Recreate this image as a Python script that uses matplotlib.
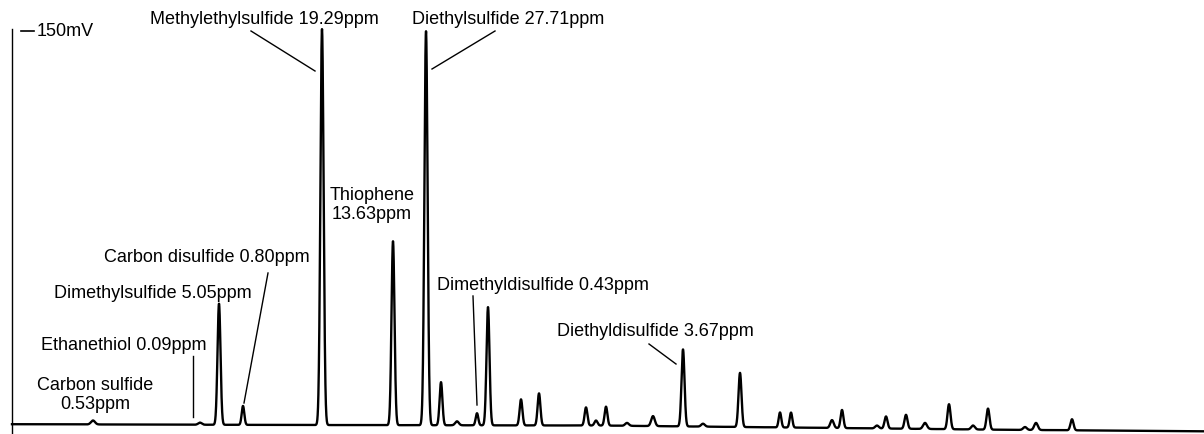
import numpy as np
import matplotlib
matplotlib.use("Agg")
import matplotlib.pyplot as plt

plt.rcParams['font.family'] = ['Liberation Sans', 'DejaVu Sans']

# ---- data: chromatogram peaks (retention position, arbitrary units; height in mV; width sigma) ----
peak_rt = [93, 200, 219, 243, 322, 393, 426, 441, 457, 477, 488, 521, 539, 586, 596, 606,
           627, 653, 683, 703, 740, 780, 791, 832, 842, 877, 886, 906, 925, 949, 973, 988,
           1025, 1036, 1072]
peak_height = [1.5, 0.8, 46.1, 7.2, 150.8, 70.0, 150.0, 16.4, 1.5, 4.6, 45.0, 9.9, 12.2, 6.9, 1.9, 7.2,
               1.1, 3.8, 29.3, 1.1, 20.6, 5.7, 5.7, 3.0, 6.9, 1.1, 4.6, 5.3, 2.3, 9.5, 1.5, 8.0,
               1.1, 2.7, 4.2]
peak_sigma = [2.0, 1.8, 1.5, 1.3, 1.6, 1.5, 1.6, 1.4, 1.8, 1.3, 1.5, 1.4, 1.4, 1.4, 1.5, 1.4,
              1.8, 1.8, 1.5, 1.8, 1.5, 1.3, 1.3, 1.7, 1.4, 1.8, 1.5, 1.5, 1.9, 1.5, 1.8, 1.5,
              1.8, 1.8, 1.5]
# baseline drift (mV)
base_rt = [12, 300, 600, 800, 1000, 1204]
base_mv = [0.3, 0.0, -0.2, -1.0, -1.8, -2.4]

labels = ["Methylethylsulfide 19.29ppm", "Diethylsulfide 27.71ppm", "Thiophene\n13.63ppm",
          "Carbon disulfide 0.80ppm", "Dimethylsulfide 5.05ppm", "Ethanethiol 0.09ppm",
          "Carbon sulfide\n0.53ppm", "Dimethyldisulfide 0.43ppm", "Diethyldisulfide 3.67ppm"]
scale_label = "150mV"

# ---- build trace ----
t = np.linspace(12, 1204, 10000)
signal = np.interp(t, base_rt, base_mv)
for rt, h, s in zip(peak_rt, peak_height, peak_sigma):
    signal = signal + h * np.exp(-0.5 * ((t - rt) / s) ** 2)

fig = plt.figure(figsize=(12.04, 4.35), dpi=100)
ax = fig.add_axes([0, 0, 1, 1])
Y0 = 426.0
K = 150.0 / 394.0
ax.set_xlim(0, 1204)
ax.set_ylim(-(435 - Y0) * K, Y0 * K)
ax.axis('off')

def py(p):  # layout helper: figure pixel row -> mV
    return (Y0 - p) * K

ax.plot(t, signal, color='black', lw=1.7, solid_joinstyle='round')

# vertical scale axis
ax.plot([11.5, 11.5], [py(30), py(434)], color='black', lw=1.0)
ax.plot([21, 34], [150, 150], color='black', lw=1.2)
ax.text(37, 150, scale_label, fontsize=13, va='center', ha='left')

fs = 13
lw_l = 1.0
# Methylethylsulfide
ax.text(264, py(19), labels[0], fontsize=fs, ha='center', va='center')
ax.plot([251, 315], [py(32), py(72)], color='black', lw=lw_l)
# Diethylsulfide
ax.text(508, py(19), labels[1], fontsize=fs, ha='center', va='center')
ax.plot([495, 432], [py(32), py(70)], color='black', lw=lw_l)
# Thiophene
ax.text(372, py(205), labels[2], fontsize=fs, ha='center', va='center', linespacing=1.1)
# Carbon disulfide
ax.text(207, py(258), labels[3], fontsize=fs, ha='center', va='center')
ax.plot([268, 244], [py(274), py(404)], color='black', lw=lw_l)
# Dimethylsulfide
ax.text(153, py(293), labels[4], fontsize=fs, ha='center', va='center')
# Ethanethiol
ax.text(124, py(346), labels[5], fontsize=fs, ha='center', va='center')
ax.plot([193, 193], [py(357), py(418)], color='black', lw=lw_l)
# Carbon sulfide
ax.text(95, py(395), labels[6], fontsize=fs, ha='center', va='center', linespacing=1.1)
# Dimethyldisulfide
ax.text(543, py(285), labels[7], fontsize=fs, ha='center', va='center')
ax.plot([473, 477], [py(297), py(406)], color='black', lw=lw_l)
# Diethyldisulfide
ax.text(655, py(332), labels[8], fontsize=fs, ha='center', va='center')
ax.plot([649, 676], [py(345), py(365)], color='black', lw=lw_l)

fig.savefig('out.png', dpi=100, facecolor='white')
